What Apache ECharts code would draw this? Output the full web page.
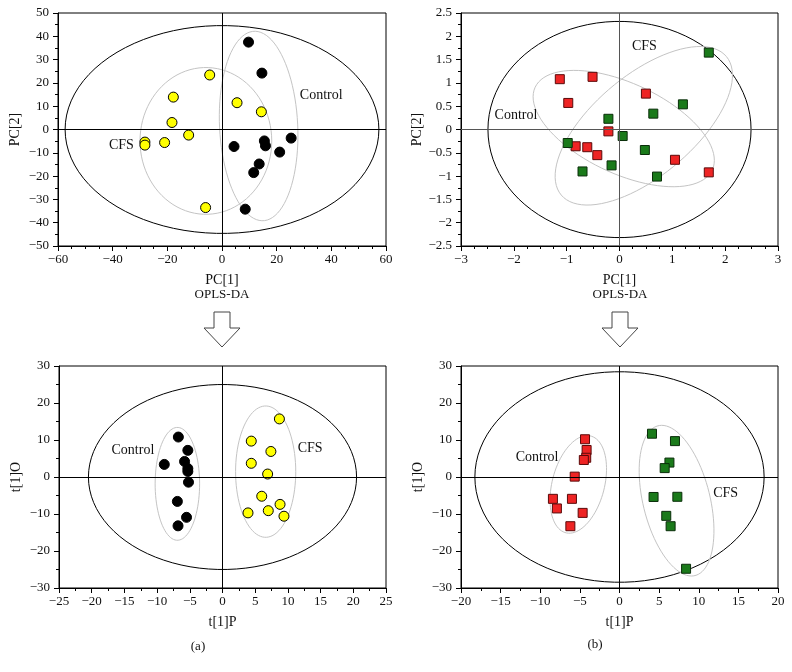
<!DOCTYPE html>
<html>
<head>
<meta charset="utf-8">
<script src="https://cdn.jsdelivr.net/npm/echarts@6/dist/echarts.min.js"></script>
<style>
html, body { margin: 0; padding: 0; background: #fff; }
#main { width: 792px; height: 672px; }
</style>
</head>
<body>
<div id="main"></div>
<script>
// PCA scores, panel (a): circles
var pcaA_control = [[9.7, 37.5], [14.6, 24.2], [4.4, -7.3], [15.5, -4.9], [15.9, -7.0],
    [25.3, -3.7], [21.1, -9.7], [13.6, -14.8], [11.6, -18.5], [8.5, -34.2]];
var pcaA_cfs = [[-4.5, 23.4], [-17.8, 13.9], [5.5, 11.5], [14.4, 7.6], [-18.3, 3.0],
    [-12.2, -2.4], [-21.0, -5.6], [-28.2, -5.4], [-28.2, -6.7], [-6.0, -33.5]];
// PCA scores, panel (b): squares
var pcaB_control = [[-1.13, 1.08], [-0.51, 1.13], [-0.97, 0.57], [0.50, 0.77], [-0.21, -0.04],
    [-0.83, -0.36], [-0.61, -0.38], [-0.42, -0.55], [1.05, -0.65], [1.69, -0.92]];
var pcaB_cfs = [[1.69, 1.65], [1.20, 0.54], [0.64, 0.34], [-0.21, 0.23], [0.06, -0.14],
    [-0.98, -0.29], [0.48, -0.44], [-0.15, -0.77], [-0.70, -0.90], [0.71, -1.01]];
// OPLS-DA scores
var oplsA_control = [[-6.75, 10.8], [-5.3, 7.2], [-5.8, 4.2], [-5.3, 2.3], [-5.3, 1.5],
    [-8.9, 3.4], [-5.2, -1.4], [-6.9, -6.6], [-5.5, -10.9], [-6.8, -13.2]];
var oplsA_cfs = [[8.7, 15.7], [4.4, 9.7], [7.4, 6.9], [4.4, 3.7], [6.9, 0.8],
    [6.0, -5.2], [8.8, -7.4], [7.0, -9.1], [3.9, -9.7], [9.4, -10.6]];
var oplsB_control = [[-4.35, 10.2], [-4.15, 7.3], [-4.2, 5.2], [-4.5, 4.6], [-5.65, 0.1],
    [-8.4, -5.9], [-6.0, -5.9], [-7.9, -8.5], [-4.65, -9.7], [-6.2, -13.3]];
var oplsB_cfs = [[4.1, 11.7], [7.0, 9.7], [6.3, 3.9], [5.7, 2.4], [4.3, -5.4],
    [7.3, -5.35], [5.9, -10.5], [6.45, -13.3], [8.4, -24.8]];

// ellipses: [centre x, centre y, radius along x, radius along y, tilt in degrees]
var hotA1 = [[0, 0, 57.4, 44.6, 0]];
var grpA1 = [[13.4, 1.5, 14.3, 40.7, -2.8], [-5.9, -4.9, 24.1, 31.5, 0]];
var hotB1 = [[0, 0, 2.49, 2.32, 0]];
var grpB1 = [[0.08, 0.02, 1.85, 0.97, 25], [0.46, 0.08, 2.04, 1.08, -40]];
var hotA2 = [[0, 0, 20.5, 25.0, 0]];
var grpA2 = [[-6.9, -1.85, 3.4, 15.25, 0], [6.6, 1.45, 4.6, 17.75, 0]];
var hotB2 = [[0, 0, 18.25, 28.45, 0]];
var grpB2 = [[-5.2, -2.0, 3.3, 13.5, 14.5], [7.2, -6.4, 4.23, 20.85, -13.8]];

// group labels inside each plot
var labNamesA1 = ['Control', 'CFS'], labPosA1 = [[36.3, 14.5], [-36.8, -7.0]];
var labNamesB1 = ['CFS', 'Control'], labPosB1 = [[0.47, 1.78], [-1.96, 0.30]];
var labNamesA2 = ['Control', 'CFS'], labPosA2 = [[-13.7, 7.2], [13.4, 7.8]];
var labNamesB2 = ['Control', 'CFS'], labPosB2 = [[-10.4, 5.3], [13.4, -4.5]];

var FONT = 'Liberation Serif';

function fmt(v) {
    return String(v).replace('-', '\u2212');
}

function ellipseItem(color) {
    return function (params, api) {
        var c = api.coord([api.value(0), api.value(1)]);
        var s = api.size([api.value(2), api.value(3)]);
        var th = api.value(4) * Math.PI / 180;
        var pts = [];
        for (var i = 0; i <= 90; i++) {
            var t = i / 90 * Math.PI * 2;
            var x = s[0] * Math.cos(t), y = s[1] * Math.sin(t);
            pts.push([c[0] + x * Math.cos(th) - y * Math.sin(th),
                      c[1] + x * Math.sin(th) + y * Math.cos(th)]);
        }
        return {
            type: 'polyline',
            shape: { points: pts },
            style: { fill: null, stroke: color, lineWidth: 1 },
            silent: true
        };
    };
}

function textItem(names) {
    return function (params, api) {
        var c = api.coord([api.value(0), api.value(1)]);
        return {
            type: 'text', x: c[0], y: c[1], silent: true,
            style: {
                text: names[params.dataIndex], fill: '#111',
                font: '14px "Liberation Serif"', align: 'center', verticalAlign: 'middle'
            }
        };
    };
}

function xAx(idx, min, max, step, split, name) {
    return {
        type: 'value', gridIndex: idx, min: min, max: max, interval: step,
        name: name, nameLocation: 'middle', nameGap: 27,
        nameTextStyle: { fontFamily: FONT, fontSize: 14, color: '#111' },
        axisLine: { show: true, onZero: false, lineStyle: { color: '#000', width: 1 } },
        axisTick: { show: true, length: 5, lineStyle: { color: '#000' } },
        minorTick: { show: true, splitNumber: split, length: 3, lineStyle: { color: '#000' } },
        axisLabel: { fontFamily: FONT, fontSize: 13, color: '#111', margin: 7, formatter: fmt },
        splitLine: { show: false }
    };
}

function yAx(idx, min, max, step, name) {
    return {
        type: 'value', gridIndex: idx, min: min, max: max, interval: step,
        name: name, nameLocation: 'middle', nameGap: 36,
        nameTextStyle: { fontFamily: FONT, fontSize: 14, color: '#111' },
        axisLine: { show: true, onZero: false, lineStyle: { color: '#000', width: 1 } },
        axisTick: { show: true, length: 5, lineStyle: { color: '#000' } },
        minorTick: { show: true, splitNumber: 2, length: 3, lineStyle: { color: '#000' } },
        axisLabel: { fontFamily: FONT, fontSize: 13, color: '#111', margin: 9, formatter: fmt },
        splitLine: { show: false }
    };
}

function panelSeries(idx, hot, grp, names, pos, crossColor) {
    return [{
        type: 'custom', xAxisIndex: idx, yAxisIndex: idx, z: 1,
        renderItem: ellipseItem('#000'), data: hot, silent: true,
        markLine: {
            silent: true, symbol: 'none', label: { show: false },
            lineStyle: { color: crossColor, width: 1, type: 'solid' },
            data: [{ xAxis: 0 }, { yAxis: 0 }]
        }
    }, {
        type: 'custom', xAxisIndex: idx, yAxisIndex: idx, z: 1,
        renderItem: ellipseItem('#c4c4c4'), data: grp, silent: true
    }, {
        type: 'custom', xAxisIndex: idx, yAxisIndex: idx, z: 5,
        renderItem: textItem(names), data: pos, silent: true
    }];
}

function pts(idx, data, symbol, size, fill, border) {
    return {
        type: 'scatter', xAxisIndex: idx, yAxisIndex: idx, z: 4,
        symbol: symbol, symbolSize: size, data: data,
        itemStyle: { color: fill, borderColor: border, borderWidth: 1, opacity: 1 }
    };
}

var myChart = echarts.init(document.getElementById('main'));

function arrow(cx) {
    return {
        type: 'polygon',
        shape: { points: [[cx - 8, 312], [cx + 8, 312], [cx + 8, 328], [cx + 18, 328],
                          [cx, 347], [cx - 18, 328], [cx - 8, 328]] },
        style: { fill: '#fff', stroke: '#444', lineWidth: 1 }
    };
}

function note(text, x, y) {
    return {
        type: 'text',
        style: { text: text, x: x, y: y, font: '13px "Liberation Serif"', fill: '#111', textAlign: 'center', textVerticalAlign: 'middle' }
    };
}

var series = [].concat(
    panelSeries(0, hotA1, grpA1, labNamesA1, labPosA1, '#000'),
    panelSeries(1, hotB1, grpB1, labNamesB1, labPosB1, '#555'),
    panelSeries(2, hotA2, grpA2, labNamesA2, labPosA2, '#000'),
    panelSeries(3, hotB2, grpB2, labNamesB2, labPosB2, '#000'),
    [
        pts(0, pcaA_control, 'circle', 10, '#000', '#000'),
        pts(0, pcaA_cfs, 'circle', 10, '#ffff00', '#000'),
        pts(1, pcaB_control, 'rect', 9, '#ee2424', '#5a0a0a'),
        pts(1, pcaB_cfs, 'rect', 9, '#1a7a1a', '#0a2e0a'),
        pts(2, oplsA_control, 'circle', 10, '#000', '#000'),
        pts(2, oplsA_cfs, 'circle', 10, '#ffff00', '#000'),
        pts(3, oplsB_control, 'rect', 9, '#ee2424', '#5a0a0a'),
        pts(3, oplsB_cfs, 'rect', 9, '#1a7a1a', '#0a2e0a')
    ]
);

var option = {
    backgroundColor: '#fff',
    animation: false,
    grid: [
        { left: 58, top: 13, width: 328, height: 233, show: true, borderColor: '#000', borderWidth: 1 },
        { left: 461, top: 13, width: 317, height: 233, show: true, borderColor: '#000', borderWidth: 1 },
        { left: 59, top: 366, width: 327, height: 222, show: true, borderColor: '#000', borderWidth: 1 },
        { left: 461, top: 366, width: 317, height: 222, show: true, borderColor: '#000', borderWidth: 1 }
    ],
    xAxis: [
        xAx(0, -60, 60, 20, 4, 'PC[1]'),
        xAx(1, -3, 3, 1, 4, 'PC[1]'),
        xAx(2, -25, 25, 5, 2, 't[1]P'),
        xAx(3, -20, 20, 5, 2, 't[1]P')
    ],
    yAxis: [
        yAx(0, -50, 50, 10, 'PC[2]'),
        yAx(1, -2.5, 2.5, 0.5, 'PC[2]'),
        yAx(2, -30, 30, 10, 't[1]O'),
        yAx(3, -30, 30, 10, 't[1]O')
    ],
    graphic: [
        note('OPLS-DA', 222, 295),
        note('OPLS-DA', 620, 295),
        arrow(222),
        arrow(620),
        note('(a)', 198, 647),
        note('(b)', 595, 645)
    ],
    series: series
};

myChart.setOption(option);
</script>
</body>
</html>
